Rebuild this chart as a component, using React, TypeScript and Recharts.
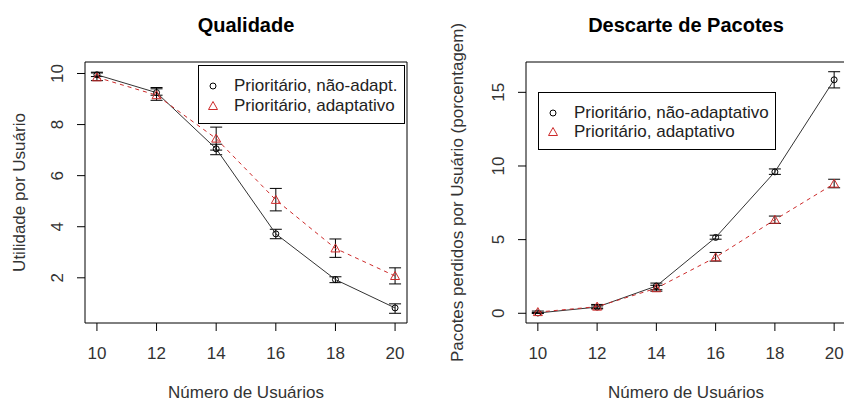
import React from "react"
import { ComposedChart, Line, XAxis, YAxis, ErrorBar, ReferenceArea, Legend } from "recharts"

// number of users (x axis)
const usuarios = [10, 12, 14, 16, 18, 20]
const xTicks = [10, 12, 14, 16, 18, 20]

// Qualidade: utility per user
const qualNaoAdapt = [9.95, 9.25, 7.05, 3.72, 1.93, 0.82]
const qualNaoAdaptLo = [9.88, 9.15, 6.82, 3.53, 1.81, 0.61]
const qualNaoAdaptHi = [10.02, 9.4, 7.23, 3.9, 2.04, 0.98]
const qualAdapt = [9.85, 9.15, 7.45, 5.05, 3.15, 2.07]
const qualAdaptLo = [9.72, 8.95, 7.0, 4.62, 2.8, 1.76]
const qualAdaptHi = [10.05, 9.45, 7.9, 5.5, 3.52, 2.39]
const qualYTicks = [2, 4, 6, 8, 10]

// Descarte de Pacotes: lost packets per user (%)
const descNaoAdapt = [0.02, 0.42, 1.85, 5.15, 9.6, 15.85]
const descNaoAdaptLo = [0.0, 0.35, 1.6, 5.03, 9.43, 15.3]
const descNaoAdaptHi = [0.05, 0.5, 2.05, 5.3, 9.8, 16.4]
const descAdapt = [0.08, 0.45, 1.7, 3.8, 6.35, 8.8]
const descAdaptLo = [0.0, 0.3, 1.5, 3.54, 6.1, 8.52]
const descAdaptHi = [0.15, 0.6, 1.9, 4.13, 6.6, 9.1]
const descYTicks = [0, 5, 10, 15]

const RED = "#cd2a2a"
const FONT = "'Liberation Sans', Arial, sans-serif"

const buildRows = (a: number[], aLo: number[], aHi: number[], b: number[], bLo: number[], bHi: number[]) =>
  usuarios.map((n, i) => ({
    n,
    a: a[i],
    aErr: [a[i] - aLo[i], aHi[i] - a[i]],
    b: b[i],
    bErr: [b[i] - bLo[i], bHi[i] - b[i]],
  }))

const qualData = buildRows(qualNaoAdapt, qualNaoAdaptLo, qualNaoAdaptHi, qualAdapt, qualAdaptLo, qualAdaptHi)
const descData = buildRows(descNaoAdapt, descNaoAdaptLo, descNaoAdaptHi, descAdapt, descAdaptLo, descAdaptHi)

const CircleDot = (p: any) => (
  <circle key={`c-${p.index}`} cx={p.cx} cy={p.cy} r={3} fill="none" stroke="#000" strokeWidth={1} />
)

const TriangleDot = (p: any) => (
  <path
    key={`t-${p.index}`}
    d={`M${p.cx},${p.cy - 4.5} L${p.cx + 4.5},${p.cy + 3.5} L${p.cx - 4.5},${p.cy + 3.5} Z`}
    fill="none"
    stroke={RED}
    strokeWidth={1}
  />
)

const RotatedTick = (p: any) => (
  <text
    x={p.x - 17}
    y={p.y}
    transform={`rotate(-90 ${p.x - 17} ${p.y})`}
    textAnchor="middle"
    dominantBaseline="central"
    fontSize={17}
    fontFamily={FONT}
    fill="#333"
  >
    {p.payload.value}
  </text>
)

const YTitle = ({ viewBox, value, dx }: any) => {
  const x = viewBox.x + dx
  const y = viewBox.y + viewBox.height / 2
  return (
    <text
      x={x}
      y={y}
      transform={`rotate(-90 ${x} ${y})`}
      textAnchor="middle"
      dominantBaseline="central"
      fontSize={17}
      fontFamily={FONT}
      fill="#333"
    >
      {value}
    </text>
  )
}

const legendRow = (sym: React.ReactNode, label: string, top: number) => (
  <div style={{ position: "absolute", left: 0, top, height: 20, width: "100%" }}>
    <svg width={30} height={20} style={{ position: "absolute", left: 0, top: 0 }}>
      {sym}
    </svg>
    <span style={{ position: "absolute", left: 35, top: 0, lineHeight: "20px", fontSize: 17, color: "#222", whiteSpace: "nowrap" }}>
      {label}
    </span>
  </div>
)

const makeLegend = (labelA: string, labelB: string, w: number, h: number, rowGap: number) => () => (
  <div
    style={{
      position: "relative",
      width: w,
      height: h,
      border: "1px solid #000",
      background: "#fff",
      boxSizing: "border-box",
      fontFamily: FONT,
    }}
  >
    {legendRow(<circle cx={14} cy={10} r={3} fill="none" stroke="#000" />, labelA, 10)}
    {legendRow(<path d="M14,5.5 L18.5,13.5 L9.5,13.5 Z" fill="none" stroke={RED} />, labelB, 10 + rowGap)}
  </div>
)

interface PanelProps {
  data: any[]
  width: number
  yWidth: number
  rightMargin: number
  yDomain: [number, number]
  yTicks: number[]
  yLabel: string
  yLabelDx: number
  legend: () => React.ReactElement
  legendPos: { left: number; top: number }
}

function Panel({ data, width, yWidth, rightMargin, yDomain, yTicks, yLabel, yLabelDx, legend, legendPos }: PanelProps) {
  return (
    <ComposedChart width={width} height={401} data={data} margin={{ top: 62, right: rightMargin, bottom: 0, left: 0 }}>
      <XAxis
        dataKey="n"
        type="number"
        domain={[9.6, 20.4]}
        ticks={xTicks}
        allowDataOverflow
        axisLine={false}
        tickLine={{ stroke: "#000" }}
        tickSize={8}
        tickMargin={16}
        height={78}
        tick={{ fontSize: 17, fontFamily: FONT, fill: "#333" }}
        label={{ value: "Número de Usuários", position: "insideBottom", offset: 3, fontSize: 17, fontFamily: FONT, fill: "#333" }}
      />
      <YAxis
        type="number"
        domain={yDomain}
        ticks={yTicks}
        allowDataOverflow
        width={yWidth}
        axisLine={false}
        tickLine={{ stroke: "#000" }}
        tickSize={8}
        tick={RotatedTick}
        label={<YTitle value={yLabel} dx={yLabelDx} />}
      />
      <ReferenceArea x1={9.6} x2={20.4} y1={yDomain[0]} y2={yDomain[1]} fill="none" stroke="#000" strokeWidth={1} />
      <Line
        dataKey="a"
        stroke="#333"
        strokeWidth={1}
        dot={CircleDot}
        activeDot={false}
        isAnimationActive={false}
      >
        <ErrorBar dataKey="aErr" direction="y" width={6} stroke="#000" strokeWidth={1} />
      </Line>
      <Line
        dataKey="b"
        stroke={RED}
        strokeWidth={1}
        strokeDasharray="4 4"
        dot={TriangleDot}
        activeDot={false}
        isAnimationActive={false}
      >
        <ErrorBar dataKey="bErr" direction="y" width={6} stroke="#000" strokeWidth={1} />
      </Line>
      <Legend
        layout="horizontal"
        verticalAlign="middle"
        align="center"
        content={legend}
        wrapperStyle={{ left: legendPos.left, top: legendPos.top, width: "auto" }}
      />
    </ComposedChart>
  )
}

const titleStyle: React.CSSProperties = {
  position: "absolute",
  top: 14,
  fontFamily: FONT,
  fontWeight: "bold",
  fontSize: 20,
  lineHeight: "22px",
  textAlign: "center",
  color: "#000",
}

export default function App() {
  return (
    <div
      style={{
        position: "absolute",
        left: 0,
        top: 0,
        width: 844,
        height: 401,
        overflow: "hidden",
        background: "#fff",
        fontFamily: FONT,
      }}
    >
      <div style={{ position: "absolute", left: 0, top: 0 }}>
        <Panel
          data={qualData}
          width={420}
          yWidth={85}
          rightMargin={13}
          yDomain={[0.23, 10.45]}
          yTicks={qualYTicks}
          yLabel="Utilidade por Usuário"
          yLabelDx={19}
          legend={makeLegend("Prioritário, não-adapt.", "Prioritário, adaptativo", 207, 59, 20)}
          legendPos={{ left: 198, top: 65 }}
        />
      </div>
      <div style={{ position: "absolute", left: 420, top: 0 }}>
        <Panel
          data={descData}
          width={440}
          yWidth={106}
          rightMargin={14}
          yDomain={[-0.66, 17.06]}
          yTicks={descYTicks}
          yLabel="Pacotes perdidos por Usuário (porcentagem)"
          yLabelDx={37}
          legend={makeLegend("Prioritário, não-adaptativo", "Prioritário, adaptativo", 238, 58, 19)}
          legendPos={{ left: 118, top: 92 }}
        />
      </div>
      <div style={{ ...titleStyle, left: 85, width: 322 }}>Qualidade</div>
      <div style={{ ...titleStyle, left: 526, width: 320 }}>Descarte de Pacotes</div>
    </div>
  )
}
